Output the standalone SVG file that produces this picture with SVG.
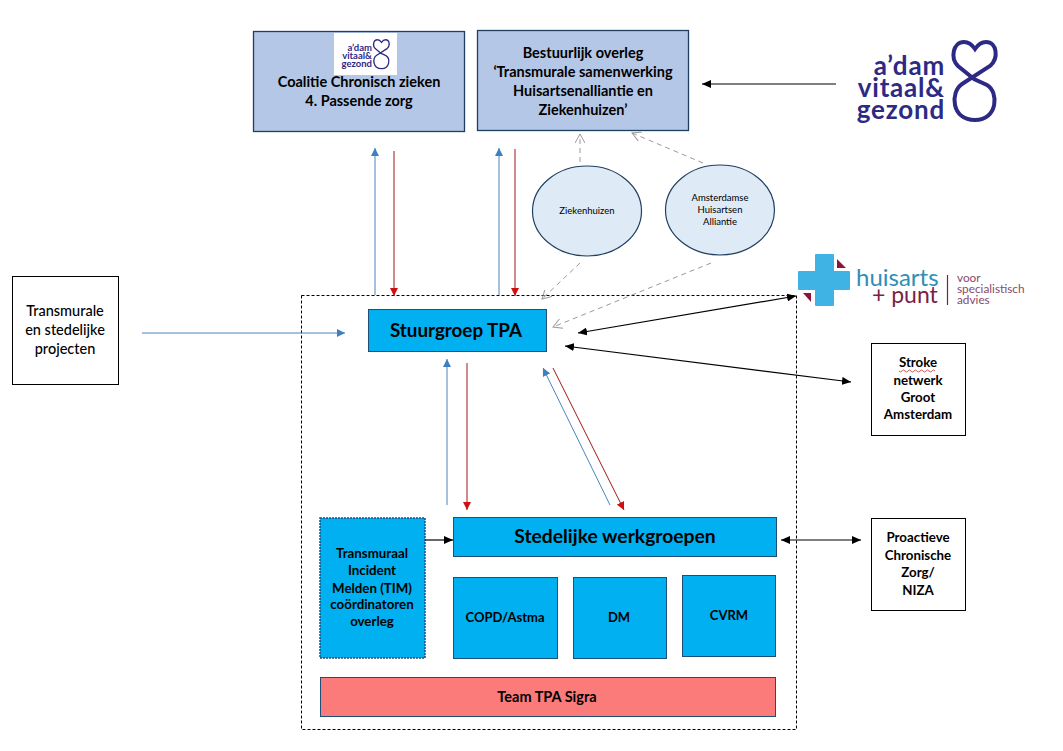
<svg xmlns="http://www.w3.org/2000/svg" width="1063" height="751" viewBox="0 0 1063 751">
<style>
text{font-family:Lato,"Liberation Sans",sans-serif;font-weight:700;text-anchor:middle;fill:#000}
.p{fill:#b4c7e7;stroke:#1f3f60;stroke-width:1.3}
.c{fill:#00b0f0;stroke:#1f4e79;stroke-width:1}
.w{fill:#fff;stroke:#000;stroke-width:1}
.e{fill:#deeaf6;stroke:#1f3f60;stroke-width:1.2}
.t14{font-size:14.500px}.t13{font-size:13px}.t12{font-size:13.300px}
.s{font-weight:400;font-size:9.500px}
.eight{fill:none;stroke:#2d2a85}
.lg{fill:#2d2a85;text-anchor:end;font-size:26px;letter-spacing:.8px}
.lgs{font-size:9.500px;fill:#2d2a85;text-anchor:end}
.hp{font-weight:400;text-anchor:start;font-size:24px}
.hs{font-weight:400;text-anchor:start;font-size:11.800px;fill:#8a4a68}
.k{fill:none;stroke:#000;stroke-width:1.200}
.b{fill:none;stroke:#4a86c0;stroke-width:1;marker-end:url(#ab)}
.r{fill:none;stroke:#a01818;stroke-width:1;marker-end:url(#ar)}
.g{fill:none;stroke:#9a9a9a;stroke-width:1;stroke-dasharray:5 4;marker-end:url(#ag)}
</style>
<defs>
<marker id="ak" markerWidth="10" markerHeight="8" refX="9" refY="4" orient="auto-start-reverse" markerUnits="userSpaceOnUse"><path d="M0 0L9 4L0 8Z" fill="#000"/></marker>
<marker id="ab" markerWidth="9" markerHeight="8" refX="8" refY="4" orient="auto" markerUnits="userSpaceOnUse"><path d="M0 0L8 4L0 8Z" fill="#3f7fbf"/></marker>
<marker id="ar" markerWidth="9" markerHeight="8" refX="8" refY="4" orient="auto" markerUnits="userSpaceOnUse"><path d="M0 0L8 4L0 8Z" fill="#d01010"/></marker>
<marker id="ag" markerWidth="11" markerHeight="10" refX="9" refY="5" orient="auto" markerUnits="userSpaceOnUse"><path d="M0 0L9 5L0 10" fill="none" stroke="#9a9a9a"/></marker>
<path id="eightp" d="M974 79L958 66C950 58 953 42 964 42C970 42 973 46 975 49C977 46 981 42 986 42C997 42 999 58 990 66L962 84C950 92 951 120 975 120C998 120 999 92 987 85Z"/>
</defs>

<g id="container"><rect x="301.500" y="295.500" width="495" height="434" fill="none" stroke="#000" stroke-width="1" stroke-dasharray="3 2"/></g>

<g id="coalitie">
<rect class="p" x="253.500" y="31.500" width="211" height="100"/>
<rect x="334" y="33" width="63" height="42" fill="#fff"/>
<use href="#eightp" class="eight" stroke-width="3.500" transform="translate(373 39) scale(.37) translate(-952 -40)"/>
<text class="lgs" x="372" y="51"><tspan x="372">a’dam</tspan><tspan x="372" dy="8">vitaal&amp;</tspan><tspan x="372" dy="8">gezond</tspan></text>
<text class="t14" x="359" y="87"><tspan x="359">Coalitie Chronisch zieken</tspan><tspan x="359" dy="19">4. Passende zorg</tspan></text>
</g>

<g id="bestuurlijk">
<rect class="p" x="477.500" y="30.500" width="211" height="100"/>
<text class="t14" x="583" y="58">Bestuurlijk overleg</text>
<text class="t14" x="583" y="77">‘Transmurale samenwerking</text>
<text class="t14" x="583" y="96">Huisartsenalliantie en</text>
<text class="t14" x="583" y="115">Ziekenhuizen’</text>
</g>

<g id="logo-adam">
<use href="#eightp" class="eight" stroke-width="4"/>
<text class="lg" x="945" y="75"><tspan x="945">a’dam</tspan><tspan x="945" dy="22">vitaal&amp;</tspan><tspan x="945" dy="22">gezond</tspan></text>
</g>

<g id="ziekenhuizen"><ellipse class="e" cx="587" cy="211" rx="54.500" ry="45"/><text class="s" x="587" y="214">Ziekenhuizen</text></g>
<g id="alliantie"><ellipse class="e" cx="720" cy="210" rx="54.500" ry="45"/>
<text class="s" x="720" y="201">Amsterdamse</text><text class="s" x="720" y="213">Huisartsen</text><text class="s" x="720" y="225">Alliantie</text></g>

<g id="projecten"><rect class="w" x="12.500" y="276.500" width="106" height="108"/>
<text class="t14" style="font-weight:500" x="65" y="316">Transmurale</text><text class="t14" style="font-weight:500" x="65" y="335">en stedelijke</text><text class="t14" style="font-weight:500" x="65" y="354">projecten</text></g>

<g id="stuurgroep"><rect class="c" x="368.500" y="309.500" width="178" height="42"/><text x="456" y="337" font-size="18.800">Stuurgroep TPA</text></g>

<g id="logo-huisarts">
<path d="M816 255H833V272H849V289H833V305H816V289H799V272H816Z" fill="#3fb3e3" stroke="#3fb3e3" stroke-width="2" stroke-linejoin="round"/>
<path d="M837 259L846 268H837Z M803 293H811V302Z" fill="#8a1538"/>
<text class="hp" x="856" y="286"><tspan x="856" style="fill:#2f8fb5">huisarts</tspan><tspan x="872" dy="17" style="fill:#7a1f45;font-size:23px">+ punt</tspan></text>
<path d="M947.500 275V305" stroke="#7a1f45" stroke-width="1.200"/>
<text class="hs" x="957" y="282"><tspan x="957">voor</tspan><tspan x="957" dy="11">specialistisch</tspan><tspan x="957" dy="11">advies</tspan></text>
</g>

<g id="stroke"><rect class="w" x="871.500" y="343.500" width="94" height="92"/>
<text class="t12" x="918" y="367">Stroke</text>
<path d="M899 371q1.500 2 3 0t3 0t3 0t3 0t3 0t3 0t3 0t3 0t3 0t3 0t3 0t3 0" fill="none" stroke="#c03030" stroke-width=".8"/>
<text class="t12" x="918" y="385">netwerk</text><text class="t12" x="918" y="402">Groot</text><text class="t12" x="918" y="419">Amsterdam</text></g>

<g id="proactieve"><rect class="w" x="871.500" y="518.500" width="94" height="92"/>
<text class="t12" x="918" y="542">Proactieve</text><text class="t12" x="918" y="560">Chronische</text><text class="t12" x="918" y="577">Zorg/</text><text class="t12" x="918" y="595">NIZA</text></g>

<g id="tim"><rect x="320" y="518" width="105" height="140" fill="#00b0f0" stroke="#1f4e79" stroke-width="1.500" stroke-dasharray="2 1"/>
<text class="t12" x="372" y="558"><tspan x="372">Transmuraal</tspan><tspan x="372" dy="17">Incident</tspan><tspan x="372" dy="18">Melden (TIM)</tspan><tspan x="372" dy="16">coördinatoren</tspan><tspan x="372" dy="17">overleg</tspan></text></g>

<g id="werkgroepen"><rect class="c" x="453.500" y="517.500" width="323" height="39"/><text x="615" y="543" font-size="19.300">Stedelijke werkgroepen</text></g>
<g id="copd"><rect class="c" x="453.500" y="577.500" width="104" height="81"/><text class="t13" x="505" y="622">COPD/Astma</text></g>
<g id="dm"><rect class="c" x="573.500" y="577.500" width="93" height="81"/><text class="t13" x="619" y="622">DM</text></g>
<g id="cvrm"><rect class="c" x="682.500" y="575.500" width="93" height="81"/><text class="t13" x="729" y="620">CVRM</text></g>
<g id="team"><rect x="320.500" y="677.500" width="455" height="39" fill="#fb7a7a" stroke="#1f4e79"/><text class="t14" x="547" y="702">Team TPA Sigra</text></g>

<g id="connectors">
<path class="k" marker-end="url(#ak)" d="M836 84H702"/>
<path class="k" marker-start="url(#ak)" marker-end="url(#ak)" d="M578 333L796 296"/>
<path class="k" marker-start="url(#ak)" marker-end="url(#ak)" d="M565 346L851 382"/>
<path class="k" marker-start="url(#ak)" marker-end="url(#ak)" d="M781 540H861"/>
<path class="k" marker-end="url(#ak)" d="M425 540H453"/>
<path class="b" d="M142 333H345"/>
<path class="b" d="M375 295V148"/>
<path class="r" d="M394 151V296"/>
<path class="b" d="M499 295V148"/>
<path class="r" d="M515 149V296"/>
<path class="b" d="M447 505V359"/>
<path class="r" d="M467 363V510"/>
<path class="b" d="M610 505L543 368"/>
<path class="r" d="M553 368L624 510"/>
<path class="g" d="M580 162V134"/>
<path class="g" d="M703 163L632 133"/>
<path class="g" d="M580 263L542 299"/>
<path class="g" d="M711 263L553 327"/>
</g>
</svg>
